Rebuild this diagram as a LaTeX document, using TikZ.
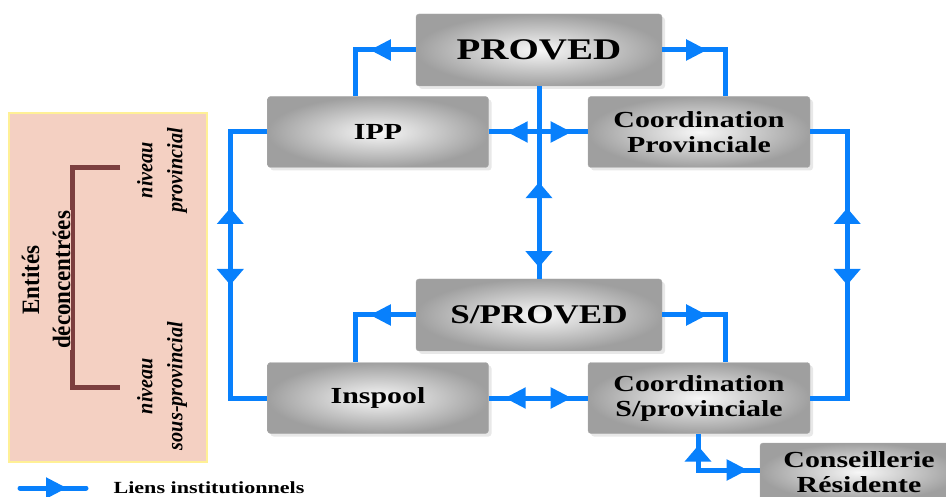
\documentclass[tikz,border=0pt]{standalone}
\usepackage{fontspec}
\setmainfont{Liberation Serif}
\newfontfamily\boxfont[FakeStretch=1.3]{Liberation Serif}
\newfontfamily\keyfont[FakeStretch=0.92]{Liberation Serif}
\usetikzlibrary{arrows.meta, decorations.markings, shadows}

\definecolor{linkblue}{RGB}{8,128,252}
\definecolor{legendpink}{RGB}{244,208,194}
\definecolor{legendedge}{RGB}{255,240,150}
\definecolor{bracketred}{RGB}{124,62,62}

\tikzset{
  hh/.tip={Triangle[length=21pt,width=20pt]},
  vv/.tip={Triangle[length=16pt,width=26pt]},
  unitbox/.style={rounded corners=3pt, shading=radial, inner color=gray!6,
    outer color=gray!75, draw=gray!65, line width=0.4pt,
    drop shadow={shadow xshift=3pt, shadow yshift=-3pt, fill=gray!35, opacity=0.5},
    align=center, inner sep=0pt, minimum width=221pt, minimum height=71pt,
    font=\boxfont\bfseries\fontsize{23}{25}\selectfont},
  bigbox/.style={unitbox, minimum width=246pt, minimum height=72pt},
  link/.style={linkblue, line width=5pt},
  fwd/.style={postaction={decorate, decoration={markings,
    mark=at position #1 with {\arrow{hh}}}}},
  bwd/.style={postaction={decorate, decoration={markings,
    mark=at position #1 with {\arrowreversed{hh}}}}},
  vfwd/.style={postaction={decorate, decoration={markings,
    mark=at position #1 with {\arrow{vv}}}}},
  vbwd/.style={postaction={decorate, decoration={markings,
    mark=at position #1 with {\arrowreversed{vv}}}}},
}

\begin{document}
\begin{tikzpicture}[x=1pt, y=-1pt]
    \useasboundingbox (0,0) rectangle (946,497);

    % Legend panel on the left
    \draw[fill=legendpink, draw=legendedge, line width=1.5pt] (9,113) rectangle (207,462);
    \draw[bracketred, line width=5pt] (120,168) -- (72,168) -- (72,387) -- (120,387);
    \node[rotate=90, fill=legendpink, inner sep=1pt, align=center,
          font=\keyfont\bfseries\fontsize{25}{31}\selectfont] (entites) at (46,280)
          {Entités\\déconcentrées};
    \node[rotate=90, align=center, font=\keyfont\bfseries\itshape\fontsize{22}{30}\selectfont]
          (nivprov) at (162,170) {niveau\\provincial};
    \node[rotate=90, align=center, font=\keyfont\bfseries\itshape\fontsize{22}{30}\selectfont]
          (nivsous) at (162,386) {niveau\\sous-provincial};

    % Units
    \node[bigbox, font=\boxfont\bfseries\fontsize{30}{32}\selectfont] (proved) at (539,50) {PROVED};
    \node[unitbox] (ipp) at (378,132) {IPP};
    \node[unitbox, minimum width=222pt] (coordp) at (699,132) {Coordination\\Provinciale};
    \node[bigbox, font=\boxfont\bfseries\fontsize{27}{29}\selectfont] (sproved) at (539,315) {S/PROVED};
    \node[unitbox] (inspool) at (378,398) {Inspool};
    \node[unitbox, minimum width=222pt] (coords) at (699,398) {Coordination\\S/provinciale};
    \node[unitbox, minimum width=198pt, minimum height=58pt] (conseil) at (859,472) {Conseillerie\\Résidente};

    % Institutional links
    \draw[link, fwd=46pt] (proved.west) -| ([xshift=-23pt]ipp.north);
    \draw[link, fwd=45pt] (proved.east) -| ([xshift=26pt]coordp.north);
    \draw[link, bwd=18pt, fwd=83pt] (ipp.east) -- (coordp.west);
    \draw[link, vbwd=96pt, vfwd=181pt] (proved.south) -- (sproved.north);
    \draw[link, vbwd=113pt, vfwd=190pt] (ipp.west) -- ++(-37pt,0) |- (inspool.west);
    \draw[link, vbwd=113pt, vfwd=190pt] (coordp.east) -- ++(37pt,0) |- (coords.east);
    \draw[link, fwd=46pt] (sproved.west) -| ([xshift=-23pt]inspool.north);
    \draw[link, fwd=45pt] (sproved.east) -| ([xshift=26pt]coords.north);
    \draw[link, bwd=16pt, fwd=83pt] (inspool.east) -- (coords.west);
    \draw[link, vbwd=12pt, fwd=86pt] ([xshift=-1pt]coords.south) |- ([yshift=2pt]conseil.west);

    % Key
    \coordinate (keyA) at (20,488);
    \coordinate (keyB) at (86,488);
    \draw[link, line cap=round, fwd=47pt] (keyA) -- (keyB);
    \node[anchor=west, font=\boxfont\bfseries\fontsize{17}{19}\selectfont] (keytext) at (110,488)
          {Liens institutionnels};
\end{tikzpicture}
\end{document}
